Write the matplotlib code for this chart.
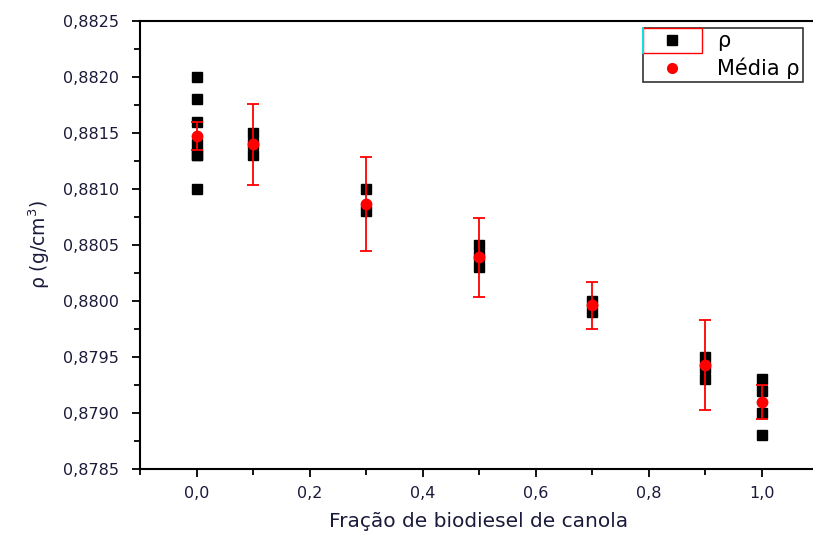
import numpy as np
import matplotlib.pyplot as plt
from matplotlib.ticker import MultipleLocator, FuncFormatter
from matplotlib.lines import Line2D
from matplotlib.patches import Rectangle

plt.rcParams['font.family'] = ['DejaVu Sans']

# individual density readings per canola biodiesel fraction
x_pts = [0.0]*7 + [0.1]*3 + [0.3]*2 + [0.5]*3 + [0.7]*2 + [0.9]*3 + [1.0]*4
rho_pts = [0.8820, 0.8818, 0.8816, 0.8814, 0.8813, 0.8813, 0.8810,
           0.8815, 0.8814, 0.8813,
           0.8810, 0.8808,
           0.8805, 0.8804, 0.8803,
           0.8800, 0.8799,
           0.8795, 0.8794, 0.8793,
           0.8793, 0.8792, 0.8790, 0.8788]

# mean and spread
frac = [0.0, 0.1, 0.3, 0.5, 0.7, 0.9, 1.0]
rho_mean = [0.88147, 0.88140, 0.88087, 0.88039, 0.87996, 0.87943, 0.87910]
rho_err = [0.000125, 0.00036, 0.00042, 0.00035, 0.00021, 0.00040, 0.00015]

fig = plt.figure(figsize=(8.13, 5.34), dpi=100)
ax = fig.add_axes([140/813, 65/534, 678/813, 448/534])

ax.plot(x_pts, rho_pts, 's', color='black', ms=7.5, zorder=2)
ax.errorbar(frac, rho_mean, yerr=rho_err, fmt='o', color='red', ecolor='red',
            ms=7.5, elinewidth=1.3, capsize=4, capthick=1.3, zorder=3)

ax.set_xlim(-0.1, 1.1)
ax.set_ylim(0.8785, 0.8825)
ax.xaxis.set_major_locator(MultipleLocator(0.2))
ax.xaxis.set_minor_locator(MultipleLocator(0.1))
ax.yaxis.set_major_locator(MultipleLocator(0.0005))
ax.yaxis.set_minor_locator(MultipleLocator(0.00025))
ax.xaxis.set_major_formatter(FuncFormatter(lambda v, p: f'{v:.1f}'.replace('.', ',')))
ax.yaxis.set_major_formatter(FuncFormatter(lambda v, p: f'{v:.4f}'.replace('.', ',')))
ax.tick_params(which='both', direction='out', width=1.3, labelsize=11.5,
               labelcolor='#1a1a3a', top=False, right=False)
ax.tick_params(which='major', length=6)
ax.tick_params(axis='y', which='major', pad=9)
ax.tick_params(axis='x', which='major', pad=6)
ax.tick_params(which='minor', length=4)
for s in ax.spines.values():
    s.set_linewidth(1.5)

ax.set_xlabel('Fração de biodiesel de canola', fontsize=14.5, labelpad=8, color='#1a1a3a')
ax.set_ylabel('ρ (g/cm$^3$)', fontsize=13.5, labelpad=8, color='#1a1a3a')

handles = [Line2D([], [], ls='none', marker='s', color='black', ms=6.5),
           Line2D([], [], ls='none', marker='o', color='red', ms=7)]
leg = ax.legend(handles, ['ρ', 'Média ρ'], loc='upper left',
                bbox_to_anchor=(503/678, 441/448), fontsize=15, frameon=True,
                fancybox=False, borderaxespad=0, handlelength=2.5, borderpad=0.15,
                labelspacing=0.3, handletextpad=0.9)
leg.get_frame().set_edgecolor('black')
leg.get_frame().set_linewidth(1.2)

# red selection frame around the first legend symbol
fig.patches.append(Rectangle((643/813, (534-53)/534), 59/813, 25/534,
                             transform=fig.transFigure, fill=False,
                             edgecolor='red', lw=1.0, zorder=10))
fig.lines.append(Line2D([643/813, 643/813], [(534-53)/534, (534-28)/534],
                        transform=fig.transFigure, color='cyan', lw=1.2, zorder=11))

plt.savefig('out.png', dpi=100)
